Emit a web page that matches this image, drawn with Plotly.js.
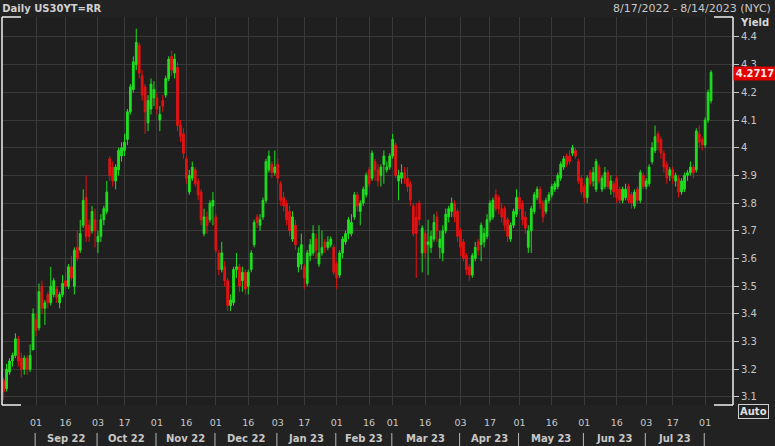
<!DOCTYPE html>
<html>
<head>
<meta charset="utf-8">
<script src="https://cdn.plot.ly/plotly-3.0.1.min.js"></script>
<style>
html,body{margin:0;padding:0;background:#222222;}
#chart{width:775px;height:446px;}
</style>
</head>
<body>
<div id="chart"></div>
<script>
// Trading days (day-of-month) per month
const aug22 = [17,18,19,22,23,24,25,26,29,30,31];
const sep22 = [1,2,6,7,8,9,12,13,14,15,16,19,20,21,22,23,26,27,28,29,30];
const oct22 = [3,4,5,6,7,11,12,13,14,17,18,19,20,21,24,25,26,27,28,31];
const nov22 = [1,2,3,4,7,8,9,10,14,15,16,17,18,21,22,23,25,28,29,30];
const dec22 = [1,2,5,6,7,8,9,12,13,14,15,16,19,20,21,22,23,27,28,29,30];
const jan23 = [3,4,5,6,9,10,11,12,13,17,18,19,20,23,24,25,26,27,30,31];
const feb23 = [1,2,3,6,7,8,9,10,13,14,15,16,17,21,22,23,24,27,28];
const mar23 = [1,2,3,6,7,8,9,10,13,14,15,16,17,20,21,22,23,24,27,28,29,30,31];
const apr23 = [3,4,5,6,7,10,11,12,13,14,17,18,19,20,21,24,25,26,27,28];
const may23 = [1,2,3,4,5,8,9,10,11,12,15,16,17,18,19,22,23,24,25,26,30,31];
const jun23 = [1,2,5,6,7,8,9,12,13,14,15,16,20,21,22,23,26,27,28,29,30];
const jul23 = [3,5,6,7,10,11,12,13,14,17,18,19,20,21,24,25,26,27,28,31];
const aug23 = [1,2,3];
const monthKeys = ["2022-08","2022-09","2022-10","2022-11","2022-12","2023-01","2023-02","2023-03","2023-04","2023-05","2023-06","2023-07","2023-08"];
const monthDays = [aug22,sep22,oct22,nov22,dec22,jan23,feb23,mar23,apr23,may23,jun23,jul23,aug23];
// Axis span extends past the data to 8/14/2023 (7 more sessions)
const extraSessions = 7;

// OHLC yields (%)
const openY = [
3.16,3.13,3.19,3.23,3.25,3.31,3.24,3.20,3.24,3.20,3.27,
3.38,3.35,3.50,3.42,3.47,3.44,3.47,3.49,3.44,3.47,3.52,3.50,3.57,3.50,3.64,3.63,3.72,3.82,3.72,3.70,3.74,
3.66,3.68,3.74,3.77,3.96,3.93,3.88,3.92,3.97,3.99,4.03,4.13,4.21,4.30,4.37,4.26,4.22,4.09,4.14,4.18,
4.18,4.10,4.17,4.19,4.25,4.33,4.27,4.29,4.08,4.05,3.96,3.84,3.89,3.92,3.88,3.84,3.69,3.75,3.74,3.79,
3.75,3.62,3.56,3.57,3.52,3.43,3.44,3.56,3.57,3.52,3.55,3.50,3.56,3.65,3.75,3.72,3.75,3.81,3.92,3.94,3.91,
3.94,3.87,3.82,3.80,3.77,3.67,3.72,3.57,3.58,3.57,3.51,3.61,3.62,3.67,3.58,3.62,3.66,3.64,3.65,3.64,
3.58,3.54,3.62,3.66,3.69,3.69,3.75,3.83,3.77,3.80,3.83,3.92,3.89,3.95,3.92,3.90,3.94,3.92,3.93,
3.97,4.01,3.88,3.89,3.91,3.89,3.87,3.79,3.75,3.80,3.62,3.69,3.65,3.64,3.67,3.75,3.64,3.62,3.70,3.75,3.77,3.80,3.77,
3.70,3.66,3.61,3.57,3.54,3.60,3.66,3.65,3.66,3.68,3.74,3.75,3.83,3.82,3.78,3.78,3.74,3.67,3.72,3.76,
3.82,3.80,3.75,3.64,3.70,3.77,3.82,3.85,3.80,3.77,3.81,3.83,3.85,3.86,3.89,3.93,3.97,3.97,3.98,3.99,3.95,3.89,
3.86,3.82,3.91,3.88,3.85,3.93,3.85,3.86,3.91,3.85,3.87,3.89,3.85,3.81,3.82,3.86,3.83,3.79,3.85,3.81,3.90,
3.86,3.87,3.95,3.99,4.05,4.03,3.98,3.94,3.90,3.92,3.88,3.89,3.84,3.85,3.90,3.91,3.93,3.92,4.05,4.03,
4.01,4.10,4.17];
const highY = [
3.17,3.22,3.24,3.26,3.33,3.32,3.26,3.25,3.25,3.29,3.42,
3.40,3.51,3.52,3.45,3.48,3.57,3.53,3.50,3.48,3.54,3.55,3.58,3.61,3.64,3.70,3.74,3.85,3.90,3.74,3.79,3.78,
3.70,3.76,3.79,3.88,3.97,3.95,3.94,4.00,4.02,4.05,4.14,4.23,4.33,4.43,4.38,4.28,4.23,4.19,4.25,4.24,
4.20,4.15,4.19,4.26,4.33,4.35,4.34,4.31,4.10,4.07,3.97,3.92,3.95,3.93,3.89,3.85,3.78,3.77,3.81,3.84,
3.76,3.63,3.66,3.59,3.53,3.47,3.57,3.62,3.58,3.57,3.56,3.56,3.63,3.74,3.76,3.76,3.82,3.96,3.99,3.95,3.99,
3.96,3.88,3.84,3.81,3.79,3.77,3.74,3.64,3.69,3.58,3.63,3.67,3.72,3.69,3.72,3.70,3.67,3.68,3.68,3.65,
3.59,3.63,3.68,3.70,3.75,3.76,3.84,3.84,3.81,3.86,3.91,3.93,3.99,3.96,3.94,3.94,3.99,3.95,3.98,
4.05,4.02,3.92,3.94,3.93,3.93,3.88,3.80,3.80,3.81,3.72,3.70,3.74,3.70,3.76,3.77,3.70,3.72,3.78,3.79,3.82,3.81,3.78,
3.71,3.67,3.62,3.58,3.62,3.66,3.67,3.73,3.71,3.76,3.81,3.82,3.85,3.83,3.80,3.79,3.75,3.73,3.78,3.85,
3.84,3.81,3.77,3.72,3.79,3.84,3.86,3.86,3.81,3.82,3.84,3.87,3.88,3.91,3.95,3.97,3.98,3.99,4.01,4.00,3.96,3.90,
3.87,3.90,3.92,3.93,3.96,3.94,3.90,3.93,3.92,3.90,3.88,3.90,3.86,3.86,3.87,3.87,3.84,3.85,3.86,3.92,3.91,
3.89,3.94,4.02,4.08,4.06,4.04,3.99,3.95,3.93,3.93,3.91,3.90,3.89,3.91,3.92,3.95,3.94,4.07,4.08,4.04,
4.11,4.21,4.28];
const lowY = [
3.09,3.12,3.18,3.21,3.24,3.21,3.17,3.18,3.18,3.19,3.27,
3.32,3.34,3.40,3.36,3.42,3.43,3.46,3.44,3.42,3.46,3.49,3.49,3.52,3.47,3.59,3.62,3.71,3.66,3.66,3.69,3.64,
3.62,3.66,3.72,3.76,3.88,3.86,3.85,3.90,3.95,3.97,4.01,4.12,4.20,4.28,4.25,4.17,4.05,4.06,4.12,4.15,
4.12,4.06,4.13,4.18,4.24,4.26,4.25,4.06,4.02,3.96,3.87,3.83,3.88,3.86,3.81,3.72,3.68,3.69,3.73,3.72,
3.62,3.54,3.55,3.50,3.41,3.41,3.43,3.53,3.48,3.48,3.47,3.47,3.55,3.64,3.71,3.70,3.74,3.80,3.91,3.89,3.90,
3.87,3.79,3.77,3.72,3.68,3.66,3.63,3.55,3.56,3.49,3.50,3.59,3.61,3.60,3.57,3.61,3.62,3.63,3.64,3.54,
3.49,3.53,3.60,3.65,3.67,3.68,3.74,3.77,3.72,3.79,3.82,3.86,3.88,3.88,3.86,3.86,3.87,3.91,3.92,
3.96,3.89,3.81,3.87,3.87,3.84,3.79,3.68,3.53,3.72,3.55,3.60,3.54,3.62,3.66,3.66,3.60,3.59,3.69,3.73,3.75,3.73,3.66,
3.61,3.59,3.54,3.52,3.53,3.59,3.61,3.59,3.64,3.67,3.73,3.74,3.77,3.76,3.73,3.70,3.66,3.66,3.71,3.75,
3.77,3.72,3.69,3.62,3.62,3.76,3.81,3.78,3.73,3.76,3.80,3.82,3.84,3.85,3.88,3.92,3.93,3.94,3.97,3.96,3.87,3.83,
3.80,3.80,3.86,3.86,3.84,3.87,3.84,3.85,3.85,3.83,3.82,3.80,3.80,3.80,3.81,3.80,3.78,3.78,3.80,3.80,3.85,
3.85,3.86,3.94,3.98,3.99,3.96,3.91,3.87,3.88,3.87,3.86,3.82,3.83,3.84,3.88,3.90,3.89,3.91,4.00,3.99,
4.00,4.09,4.16];
const closeY = [
3.12,3.20,3.23,3.25,3.31,3.23,3.20,3.24,3.20,3.25,3.40,
3.34,3.48,3.42,3.44,3.44,3.50,3.52,3.46,3.47,3.51,3.50,3.57,3.53,3.63,3.60,3.69,3.81,3.68,3.68,3.77,3.70,
3.68,3.74,3.78,3.84,3.90,3.88,3.93,3.99,4.00,4.02,4.13,4.22,4.31,4.38,4.27,4.19,4.13,4.17,4.23,4.21,
4.14,4.12,4.15,4.25,4.32,4.28,4.32,4.08,4.04,3.98,3.89,3.90,3.93,3.87,3.83,3.74,3.75,3.72,3.80,3.81,
3.63,3.56,3.62,3.52,3.43,3.45,3.56,3.57,3.50,3.55,3.49,3.55,3.62,3.73,3.73,3.74,3.81,3.95,3.97,3.91,3.93,
3.89,3.81,3.79,3.74,3.70,3.75,3.65,3.62,3.65,3.53,3.62,3.65,3.69,3.63,3.62,3.64,3.64,3.66,3.67,3.55,
3.53,3.62,3.67,3.69,3.74,3.73,3.83,3.79,3.80,3.85,3.90,3.87,3.98,3.92,3.88,3.93,3.97,3.93,3.97,
4.03,3.90,3.90,3.91,3.89,3.86,3.81,3.69,3.69,3.74,3.71,3.62,3.66,3.68,3.73,3.70,3.67,3.70,3.76,3.78,3.80,3.75,3.68,
3.64,3.60,3.56,3.54,3.61,3.64,3.63,3.72,3.69,3.74,3.80,3.81,3.78,3.78,3.75,3.72,3.68,3.72,3.77,3.82,
3.78,3.74,3.71,3.70,3.78,3.83,3.85,3.80,3.75,3.81,3.83,3.86,3.87,3.90,3.94,3.96,3.94,3.95,4.00,3.97,3.88,3.84,
3.82,3.89,3.87,3.91,3.95,3.88,3.89,3.91,3.86,3.88,3.84,3.82,3.81,3.85,3.85,3.81,3.80,3.84,3.81,3.91,3.86,
3.88,3.93,4.00,4.04,4.02,3.98,3.93,3.89,3.92,3.89,3.90,3.84,3.88,3.90,3.91,3.93,3.91,4.06,4.02,4.01,
4.10,4.20,4.2717];

// Axis labels
const tickDates = ["2022-09-01","2022-09-16","2022-10-03","2022-10-17","2022-11-01","2022-11-16","2022-12-01","2022-12-16",
"2023-01-03","2023-01-17","2023-02-01","2023-02-16","2023-03-01","2023-03-16","2023-04-03","2023-04-17",
"2023-05-01","2023-05-16","2023-06-01","2023-06-16","2023-07-03","2023-07-17","2023-08-01"];
const tickText = ["01","16","03","17","01","16","01","16","03","17","01","16","01","16","03","17","01","16","01","16","03","17","01"];
const monthLabels = ["Sep 22","Oct 22","Nov 22","Dec 22","Jan 23","Feb 23","Mar 23","Apr 23","May 23","Jun 23","Jul 23"];
const lastValue = 4.2717;

// Build dates
const dates = [];
const monthStart = [];
monthKeys.forEach((mk, m) => {
  monthStart.push(dates.length);
  monthDays[m].forEach(d => dates.push(mk + "-" + String(d).padStart(2, "0")));
});
const nCats = dates.length + extraSessions;

const trace = {
  type: "candlestick",
  x: dates, open: openY, high: highY, low: lowY, close: closeY,
  increasing: {line: {color: "#1fe01f", width: 1}, fillcolor: "#1fe01f"},
  decreasing: {line: {color: "#e41212", width: 1}, fillcolor: "#e41212"},
  whiskerwidth: 0,
  hoverinfo: "skip",
  showlegend: false
};

const txt = "#c8c8c8";
const shapes = [];
const annotations = [];
for (let m = 1; m < monthStart.length; m++) {
  shapes.push({type: "line", xref: "x", yref: "paper", x0: monthStart[m] - 0.3, x1: monthStart[m] - 0.3,
    y0: -0.072, y1: -0.106, line: {color: "#b8b8b8", width: 1}});
}
for (let m = 1; m < monthStart.length - 1; m++) {
  annotations.push({xref: "x", yref: "paper", x: (monthStart[m] + monthStart[m + 1]) / 2 - 0.3, y: -0.086,
    text: "<b>" + monthLabels[m - 1] + "</b>", showarrow: false, xanchor: "center", yanchor: "middle",
    font: {family: "DejaVu Sans", size: 10, color: txt}});
}
// frame: white left/right edges and corner ticks
shapes.push({type: "line", xref: "paper", yref: "paper", x0: 0, x1: 0, y0: 0, y1: 1, line: {color: "#f0f0f0", width: 1.5}});
shapes.push({type: "line", xref: "paper", yref: "paper", x0: 1, x1: 1, y0: 0, y1: 1, line: {color: "#f0f0f0", width: 1.5}});
shapes.push({type: "line", xref: "paper", yref: "paper", x0: 0, x1: 0.026, y0: 1, y1: 1, line: {color: "#f0f0f0", width: 1.5}});
shapes.push({type: "line", xref: "paper", yref: "paper", x0: 0, x1: 0.026, y0: 0, y1: 0, line: {color: "#f0f0f0", width: 1.5}});
shapes.push({type: "line", xref: "paper", yref: "paper", x0: 0.974, x1: 1, y0: 1, y1: 1, line: {color: "#f0f0f0", width: 1.5}});
shapes.push({type: "line", xref: "paper", yref: "paper", x0: 0.974, x1: 1, y0: 0, y1: 0, line: {color: "#f0f0f0", width: 1.5}});

annotations.push({xref: "paper", yref: "paper", x: 1.0547, y: 1.023, xanchor: "right", yanchor: "middle",
  text: "8/17/2022 - 8/14/2023 (NYC)", showarrow: false, font: {family: "DejaVu Sans", size: 11, color: txt}});
annotations.push({xref: "paper", yref: "paper", x: 1, xshift: 5, y: 0.987, xanchor: "left", yanchor: "middle",
  text: "<b>Yield</b>", showarrow: false, font: {family: "DejaVu Sans", size: 10, color: "#d8d8d8"}});
annotations.push({xref: "paper", yref: "y", x: 1, y: lastValue, yshift: -1, xanchor: "left", yanchor: "middle",
  text: "<b>" + lastValue.toFixed(4) + "</b>", showarrow: false, bgcolor: "#e00000", borderpad: 1,
  width: 40, font: {family: "DejaVu Sans", size: 10, color: "#ffe8e8"}});
annotations.push({xref: "paper", yref: "paper", x: 1, xshift: 5, y: -0.017, xanchor: "left", yanchor: "middle",
  text: "<b>Auto</b>", showarrow: false, bordercolor: "#d0d0d0", borderwidth: 1, borderpad: 1,
  font: {family: "DejaVu Sans", size: 10, color: "#e0e0e0"}});

const layout = {
  width: 775, height: 446,
  margin: {l: 2, r: 42, t: 17, b: 41},
  paper_bgcolor: "#222222", plot_bgcolor: "#1f1f1f",
  font: {family: "DejaVu Sans", size: 10, color: txt},
  boxgap: 0.15,
  title: {text: "<b>Daily US30YT=RR</b>", x: 0.003, xanchor: "left", xref: "container", y: 0.982, yanchor: "middle",
    font: {family: "DejaVu Sans", size: 10, color: "#d0d0d0"}},
  xaxis: {type: "category", range: [-0.55, nCats - 0.55], tickvals: tickDates, ticktext: tickText,
    showgrid: true, gridcolor: "#3a3a3a", gridwidth: 1, zeroline: false, showline: false,
    ticks: "outside", ticklen: 9, tickcolor: "rgba(0,0,0,0)",
    tickfont: {family: "DejaVu Sans", size: 9.5, color: txt}, rangeslider: {visible: false}, fixedrange: true},
  yaxis: {side: "right", range: [3.071, 4.472], dtick: 0.1, tick0: 0, showgrid: true, gridcolor: "#3a3a3a",
    zeroline: false, showline: false, ticks: "outside", ticklen: 5, tickcolor: "#c8c8c8", tickwidth: 1,
    tickfont: {family: "DejaVu Sans", size: 10, color: txt}, fixedrange: true},
  shapes: shapes, annotations: annotations,
  hovermode: false, showlegend: false
};

Plotly.newPlot("chart", [trace], layout, {staticPlot: true, displayModeBar: false});
</script>
</body>
</html>
